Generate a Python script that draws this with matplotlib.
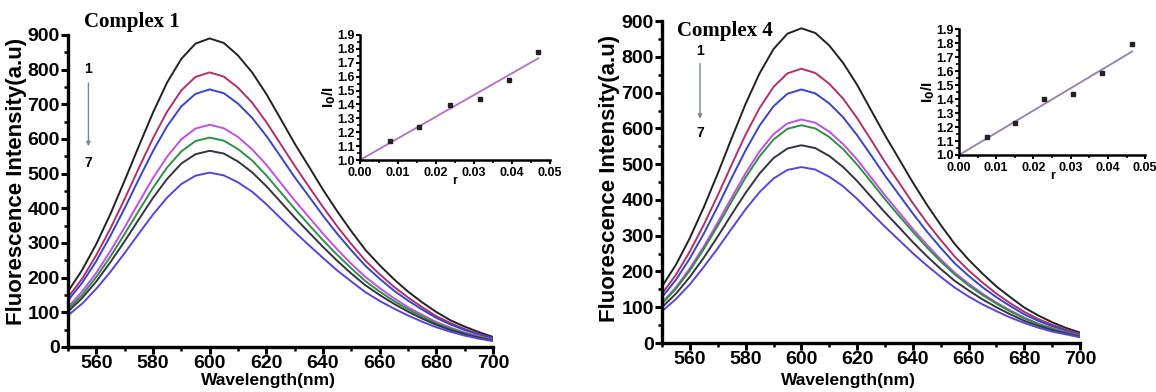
import matplotlib
matplotlib.use("Agg")
import matplotlib.pyplot as plt
from matplotlib.ticker import MultipleLocator, FormatStrFormatter

plt.rcParams['font.family'] = ['Liberation Sans', 'DejaVu Sans']
plt.rcParams['font.weight'] = 'bold'

# ---------------- data ----------------
wavelength = [550, 555, 560, 565, 570, 575, 580, 585, 590, 595, 600, 605, 610, 615, 620, 625,
              630, 635, 640, 645, 650, 655, 660, 665, 670, 675, 680, 685, 690, 695, 700]

c1_s1 = [160, 222, 297, 384, 480, 579, 676, 763, 831, 875, 890, 877, 841, 792, 730, 659, 587, 521, 454, 392, 334, 280, 236, 196, 160, 129, 101, 77, 59, 43, 29]
c1_s2 = [143, 197, 265, 342, 427, 516, 602, 679, 740, 779, 792, 780, 748, 705, 649, 586, 523, 463, 404, 348, 297, 249, 210, 174, 143, 115, 89, 69, 52, 38, 26]
c1_s3 = [134, 185, 248, 321, 400, 484, 565, 637, 694, 730, 743, 732, 702, 661, 609, 550, 490, 435, 379, 327, 279, 234, 197, 163, 134, 108, 84, 65, 49, 36, 25]
c1_s4 = [115, 160, 214, 277, 345, 417, 487, 549, 599, 630, 641, 631, 606, 570, 526, 474, 423, 375, 327, 282, 240, 202, 170, 141, 115, 93, 72, 56, 42, 31, 21]
c1_s5 = [109, 150, 202, 261, 326, 393, 459, 518, 564, 594, 604, 595, 571, 538, 495, 447, 399, 353, 308, 266, 227, 190, 160, 133, 109, 88, 68, 53, 40, 29, 20]
c1_s6 = [102, 141, 189, 245, 305, 368, 430, 485, 529, 556, 566, 558, 535, 504, 464, 419, 374, 331, 289, 249, 212, 178, 150, 125, 102, 82, 64, 49, 37, 27, 19]
c1_s7 = [91, 125, 168, 217, 271, 327, 382, 431, 470, 494, 503, 495, 475, 448, 412, 372, 332, 294, 257, 221, 189, 158, 133, 111, 91, 73, 57, 44, 33, 24, 17]

c4_s1 = [158, 219, 294, 380, 474, 573, 669, 754, 822, 865, 880, 867, 832, 783, 722, 651, 581, 515, 449, 387, 330, 277, 233, 194, 158, 128, 99, 77, 58, 42, 29]
c4_s2 = [138, 191, 256, 331, 413, 499, 583, 657, 716, 754, 767, 755, 725, 683, 629, 568, 506, 449, 391, 337, 288, 242, 203, 169, 138, 111, 87, 67, 51, 37, 25]
c4_s3 = [128, 177, 237, 306, 382, 462, 539, 608, 662, 697, 709, 698, 670, 631, 581, 525, 468, 415, 362, 312, 266, 223, 188, 156, 128, 103, 80, 62, 47, 34, 23]
c4_s4 = [113, 156, 209, 270, 337, 407, 475, 536, 584, 614, 625, 616, 591, 556, 513, 463, 413, 366, 319, 275, 234, 197, 166, 138, 113, 91, 71, 54, 41, 30, 21]
c4_s5 = [110, 152, 203, 263, 328, 396, 463, 522, 569, 599, 609, 600, 576, 542, 499, 451, 402, 356, 311, 268, 228, 192, 161, 134, 110, 88, 69, 53, 40, 29, 20]
c4_s6 = [100, 138, 185, 239, 298, 360, 420, 474, 517, 544, 553, 545, 523, 492, 453, 409, 365, 324, 282, 243, 207, 174, 147, 122, 100, 80, 62, 48, 36, 27, 18]
c4_s7 = [89, 123, 164, 213, 265, 320, 374, 422, 460, 484, 492, 485, 465, 438, 403, 364, 325, 288, 251, 217, 185, 155, 130, 108, 89, 71, 56, 43, 32, 24, 16]

# inset (Stern-Volmer) data
r1 = [0.0079, 0.0156, 0.0237, 0.0316, 0.0392, 0.0469]
i0i_1 = [1.139, 1.236, 1.396, 1.437, 1.576, 1.775]
fit1_r = [0.0, 0.0469]
fit1_y = [1.0, 1.732]

r4 = [0.0075, 0.0150, 0.0227, 0.0305, 0.0383, 0.0465]
i0i_4 = [1.131, 1.231, 1.403, 1.435, 1.589, 1.793]
fit4_r = [0.0, 0.0465]
fit4_y = [1.0, 1.740]

series_colors = ['#222222', '#b0306a', '#3646c4', '#c050e6', '#2f8f45', '#34343f', '#5a44d8']

# ---------------- figure ----------------
fig = plt.figure(figsize=(11.56, 3.92), dpi=100)


def style_main(ax):
    for s in ['top', 'right']:
        ax.spines[s].set_visible(False)
    for s in ['left', 'bottom']:
        ax.spines[s].set_linewidth(2.4)
    ax.set_xlim(550, 700)
    ax.set_ylim(0, 900)
    ax.xaxis.set_minor_locator(MultipleLocator(10))
    ax.yaxis.set_major_locator(MultipleLocator(100))
    ax.yaxis.set_minor_locator(MultipleLocator(50))
    ax.set_xticks([560, 580, 600, 620, 640, 660, 680, 700])
    ax.tick_params(which='major', length=5, width=2.2, labelsize=14, pad=1)
    ax.tick_params(which='minor', length=3, width=1.8)
    for lab in ax.get_xticklabels() + ax.get_yticklabels():
        lab.set_fontweight('bold')
    ax.set_xlabel('Wavelength(nm)', fontsize=12.5, fontweight='bold')
    ax.set_ylabel('Fluorescence Intensity(a.u)', fontsize=16, fontweight='bold')
    ax.xaxis.label.set_va('top')


def style_inset(ax):
    for s in ['top', 'right']:
        ax.spines[s].set_visible(False)
    for s in ['left', 'bottom']:
        ax.spines[s].set_linewidth(1.8)
    ax.set_xlim(0, 0.05)
    ax.set_ylim(1.0, 1.9)
    ax.xaxis.set_major_locator(MultipleLocator(0.01))
    ax.xaxis.set_minor_locator(MultipleLocator(0.005))
    ax.yaxis.set_major_locator(MultipleLocator(0.1))
    ax.yaxis.set_minor_locator(MultipleLocator(0.05))
    ax.xaxis.set_major_formatter(FormatStrFormatter('%.2f'))
    ax.yaxis.set_major_formatter(FormatStrFormatter('%.1f'))
    ax.tick_params(which='major', length=3, width=1.5, labelsize=9, pad=1)
    ax.tick_params(axis='x', which='major', pad=2)
    ax.tick_params(which='minor', length=2, width=1.2)
    for lab in ax.get_xticklabels() + ax.get_yticklabels():
        lab.set_fontweight('bold')
    ax.set_xlabel('r', fontsize=9, fontweight='bold', labelpad=-3)
    ax.set_ylabel('I$_\\mathbf{0}$/I', fontsize=11, fontweight='bold', labelpad=-1)


# left panel
axL = fig.add_axes([0.0588, 0.1148, 0.3676, 0.796])
for ys, col in zip([c1_s1, c1_s2, c1_s3, c1_s4, c1_s5, c1_s6, c1_s7], series_colors):
    axL.plot(wavelength, ys, color=col, lw=1.4)
style_main(axL)
axL.xaxis.set_label_coords(0.473, -0.083)
axL.yaxis.set_label_coords(-0.097, 0.53)
fig.text(0.073, 0.943, 'Complex 1', family='Liberation Serif', fontsize=15, fontweight='bold',
         ha='left', va='center')
fig.text(0.0765, 0.823, '1', fontsize=10, fontweight='bold', ha='center', va='center')
fig.text(0.0765, 0.585, '7', fontsize=10, fontweight='bold', ha='center', va='center')
axL.annotate('', xy=(0.0765, 0.62), xytext=(0.0765, 0.795), xycoords='figure fraction',
             arrowprops=dict(arrowstyle='-|>', color='#7a8a90', lw=1.0, mutation_scale=6))

insL = fig.add_axes([0.3114, 0.5918, 0.1644, 0.319])
insL.plot(fit1_r, fit1_y, color='#b27ac6', lw=1.4)
insL.plot(r1, i0i_1, 's', color='#222222', ms=2.5)
style_inset(insL)

# right panel
axR = fig.add_axes([0.5727, 0.125, 0.3616, 0.821])
for ys, col in zip([c4_s1, c4_s2, c4_s3, c4_s4, c4_s5, c4_s6, c4_s7], series_colors):
    axR.plot(wavelength, ys, color=col, lw=1.4)
style_main(axR)
axR.xaxis.set_label_coords(0.447, -0.093)
axR.yaxis.set_label_coords(-0.1, 0.51)
fig.text(0.586, 0.922, 'Complex 4', family='Liberation Serif', fontsize=15, fontweight='bold',
         ha='left', va='center')
fig.text(0.6055, 0.87, '1', fontsize=10, fontweight='bold', ha='center', va='center')
fig.text(0.6055, 0.66, '7', fontsize=10, fontweight='bold', ha='center', va='center')
axR.annotate('', xy=(0.6055, 0.69), xytext=(0.6055, 0.845), xycoords='figure fraction',
             arrowprops=dict(arrowstyle='-|>', color='#7a8a90', lw=1.0, mutation_scale=6))

insR = fig.add_axes([0.8296, 0.6046, 0.1610, 0.321])
insR.plot(fit4_r, fit4_y, color='#9a86b0', lw=1.4)
insR.plot(r4, i0i_4, 's', color='#222222', ms=2.5)
style_inset(insR)

fig.savefig('out.png', dpi=100)
